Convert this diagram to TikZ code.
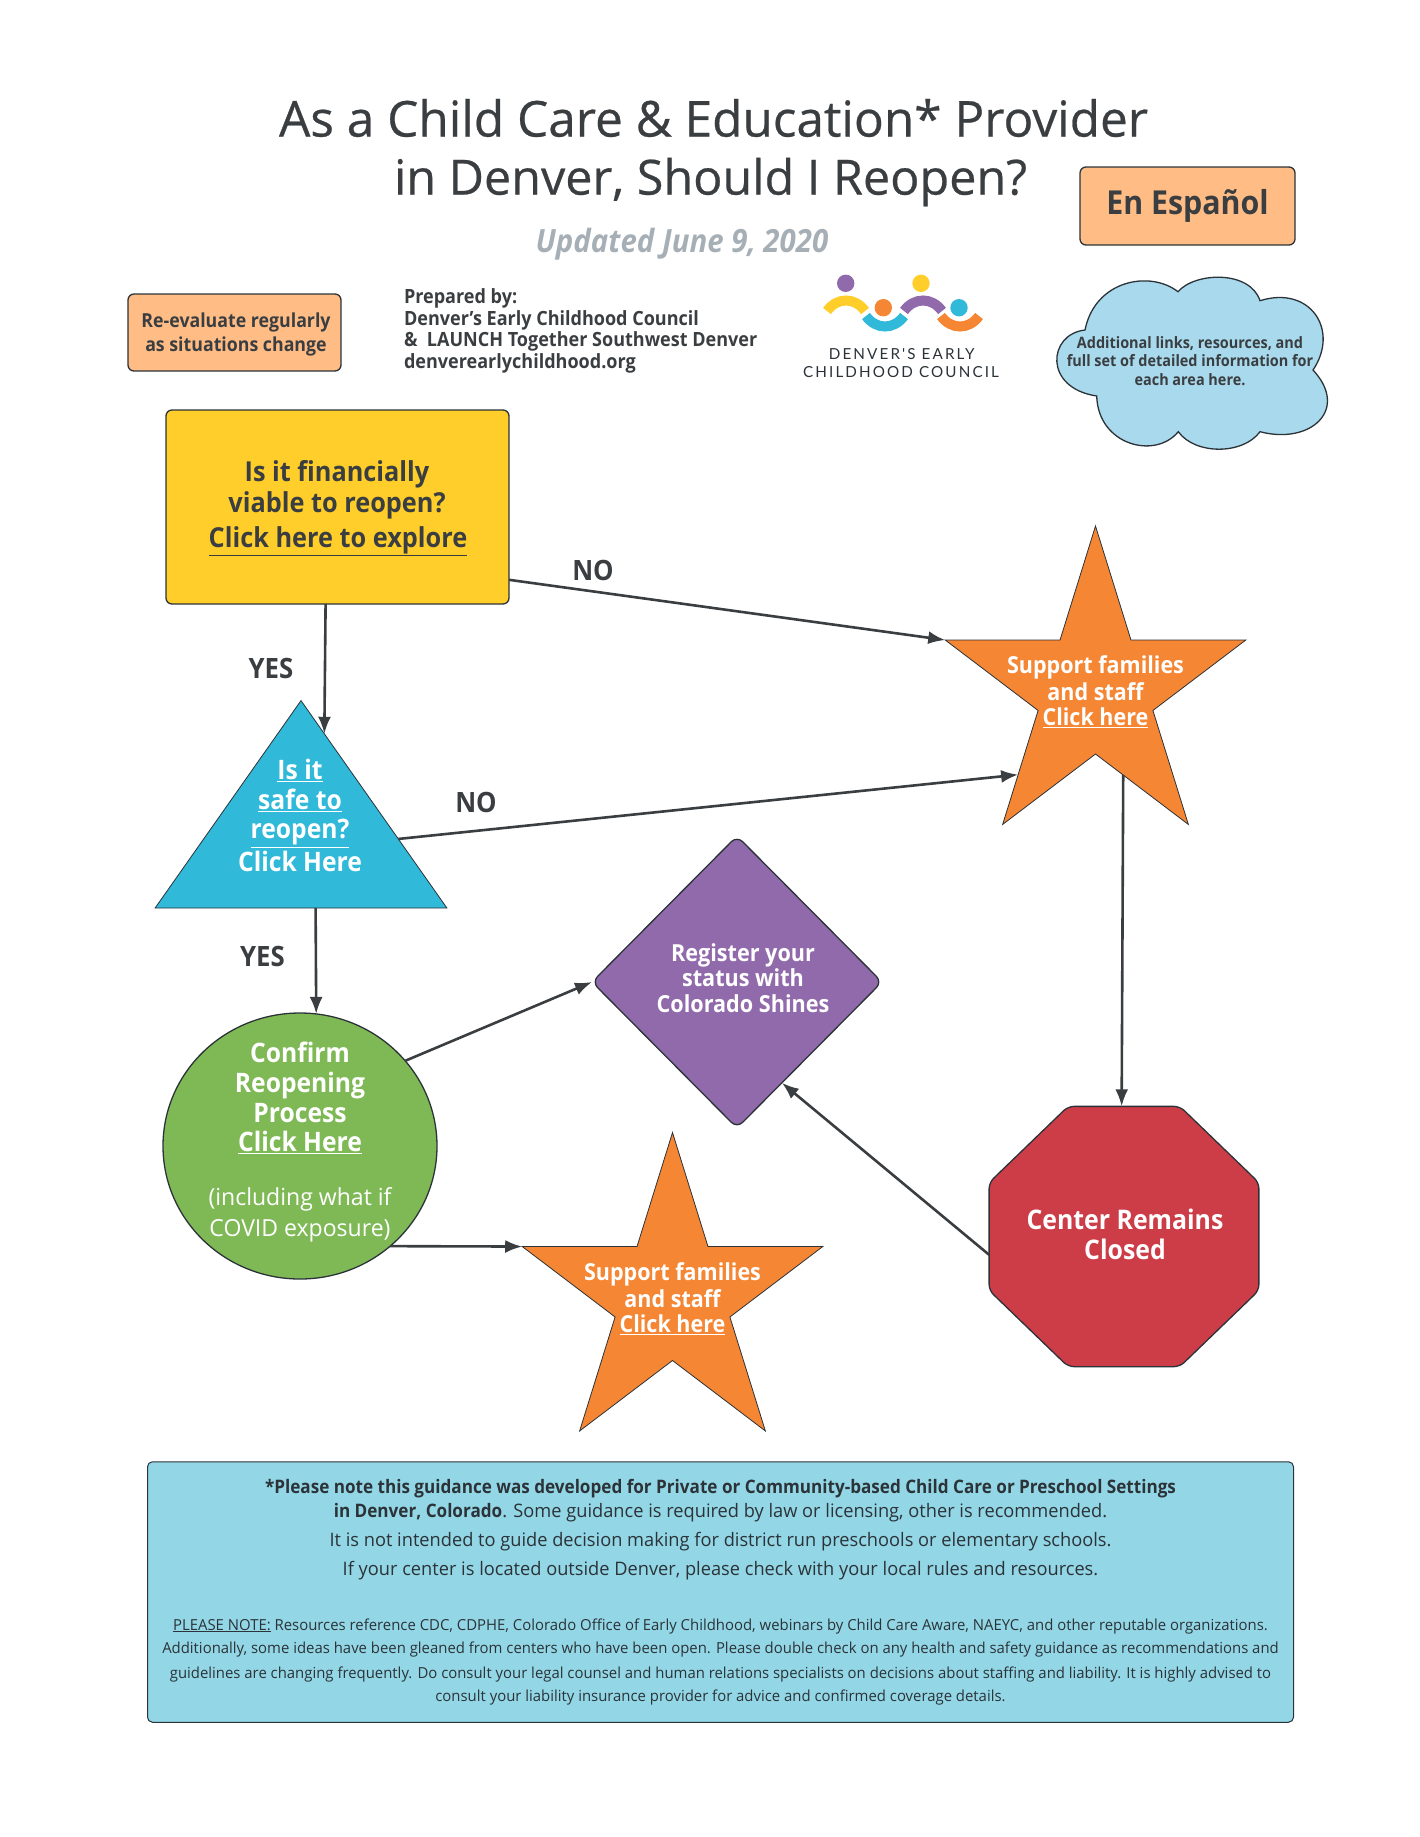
\documentclass[tikz,border=0pt]{standalone}
\usepackage{fontspec}
\setmainfont{Open Sans}[FakeStretch=0.98,BoldFeatures={FakeStretch=0.92},BoldItalicFeatures={FakeStretch=0.92}]
\newfontfamily\logofont{Lato}[LetterSpace=14]
\newfontfamily\titlefont{Open Sans}[FakeBold=0.5]
\usetikzlibrary{arrows.meta,calc,shapes.geometric}
\definecolor{ink}{HTML}{3A3E41}
\definecolor{edge}{HTML}{2B3338}
\definecolor{byellow}{HTML}{FFCE2A}
\definecolor{borange}{HTML}{F58634}
\definecolor{bcyan}{HTML}{30B9D9}
\definecolor{bpurple}{HTML}{916AAB}
\definecolor{bred}{HTML}{CC3D48}
\definecolor{bgreen}{HTML}{7FB955}
\definecolor{lorange}{HTML}{FFBC85}
\definecolor{bcloud}{HTML}{A8D9EC}
\definecolor{bnote}{HTML}{93D7E6}
\definecolor{greytext}{HTML}{A7AFB6}
\newcommand{\fs}[1]{\fontsize{#1}{#1}\selectfont}
\tikzset{
  x=1pt,y=-1pt,
  every node/.style={inner sep=0pt,outer sep=0pt,align=center,text=ink},
  shapeline/.style={draw=edge,line width=1.3pt},
  box/.style={shapeline,rectangle,rounded corners=6pt},
  conn/.style={draw=ink,line width=2.6pt,-{Latex[length=17pt,width=13pt]}},
  bigw/.style={text=white,font=\bfseries\fs{26.8}},
  label/.style={font=\bfseries\fs{28},text=ink},
  starshape/.style={star,star points=5,star point ratio=2.618,minimum size=316pt,yscale=1.044,transform shape,fill=borange,draw=edge,line width=.8pt},
  logoarc/.style={line width=10pt,line cap=butt},
  notea/.style={font=\fs{18.6},text=edge},
  noteb/.style={font=\fs{15.2},text=edge},
}
\begin{document}
\begin{tikzpicture}
\useasboundingbox (0,0) rectangle (1420,1837);
% title
\node (title1) at (713.5,118) [font=\titlefont\fs{49.5}] {As a Child Care \& Education* Provider};
\node (title2) at (710.5,182) [font=\titlefont\fs{48.5}] {in Denver, Should I Reopen?};
\node (updated) at (682,244) [font=\bfseries\itshape\fs{32},text=greytext] {Updated June 9, 2020};
\node (espanol) at (1187.5,206) [box,fill=lorange,minimum width=215pt,minimum height=78pt] {\bfseries\fs{33}En Español};
\node (reeval) at (234.5,332.5) [box,fill=lorange,minimum width=213pt,minimum height=77pt] {};
\node (reevaltext) at (236,334.5) [font=\bfseries\fs{19.3}] {Re-evaluate regularly\\[4pt]as situations change};
\node (prepared) at (404,331) [anchor=west,align=left,font=\bfseries\fs{19.6}] {Prepared by:\\[1.8pt]Denver's Early Childhood Council\\[1.8pt]\&\ \ LAUNCH Together Southwest Denver\\[1.8pt]denverearlychildhood.org};
% logo
\fill[bpurple] (845.7,283.3) circle (8.7);
\fill[byellow] (921,283.3) circle (8.7);
\fill[borange] (883.3,307.7) circle (8.7);
\fill[bcyan] (959,307.7) circle (8.7);
\draw[logoarc,byellow] (827,311) .. controls (837,297) and (855,297) .. (865,311);
\draw[logoarc,bcyan] (866,316) .. controls (876,330) and (894,330) .. (904,316);
\draw[logoarc,bpurple] (904,311) .. controls (914,297) and (932,297) .. (942,311);
\draw[logoarc,borange] (941,316) .. controls (951,330) and (969,330) .. (979,316);
\node (logo1) at (901.7,354) [font=\logofont\fs{15.2},text=edge] {DENVER'S EARLY};
\node (logo2) at (901,372) [font=\logofont\fs{15.2},text=edge] {CHILDHOOD COUNCIL};
% cloud
\draw[shapeline,fill=bcloud] (1085,330) .. controls (1048,334) and (1043,388) .. (1096.7,396)
  .. controls (1098,445) and (1155,460) .. (1178.3,431.7)
  .. controls (1195,455) and (1243,455) .. (1260,431.7)
  .. controls (1310,445) and (1350,410) .. (1313,370)
  .. controls (1340,330) and (1310,285) .. (1260,300.7)
  .. controls (1250,270) and (1195,272) .. (1178,291.7)
  .. controls (1150,270) and (1095,280) .. (1085,330) -- cycle;
\node (cloudtext) at (1190,361) [font=\bfseries\fs{15.7}] {Additional links, resources, and\\[2.5pt]full set of detailed information for\\[2.5pt]each area here.};
% flow shapes
\node (yellow) at (337.5,507) [box,fill=byellow,minimum width=343pt,minimum height=194pt] {};
\node (yellowtext) at (337,474.5) [font=\bfseries\fs{27.5}] {Is it financially};
\node (yellowtext2) at (337,505.5) [font=\bfseries\fs{27.5}] {viable to reopen?};
\node (yellowtext3) at (338,541.5) [font=\bfseries\fs{27.5}] {\underline{Click here to explore}};
\node (star1) at (1095.5,691) [starshape] {};
\node (star1text) at (1095.5,692) [text=white,font=\bfseries\fs{23.4}] {Support families\\[2pt]and staff\\[2pt]\underline{Click here}};
\node (tri) at (301,700.6) [anchor=apex,isosceles triangle,isosceles triangle stretches,shape border rotate=90,minimum width=291.8pt,minimum height=207.4pt,fill=bcyan,draw=edge,line width=.8pt] {};
\node (tritext) at (300,815.5) [bigw] {\underline{Is it}\\[3pt]\underline{safe to}\\[3pt]\underline{reopen?}\\[3pt]Click Here};
\node (circ) at (300,1146) [ellipse,minimum width=274pt,minimum height=266pt,shapeline,fill=bgreen] {};
\node (circtext) at (300,1098) [bigw] {Confirm\\[3pt]Reopening\\[3pt]Process\\[3pt]\underline{Click Here}};
\node (circtext2) at (300,1215) [text=white,font=\fs{23.5}] {(including what if\\[8pt]COVID exposure)};
\node (diam) at (737,982) [diamond,minimum width=290pt,minimum height=292pt,rounded corners=8pt,shapeline,fill=bpurple] {};
\node (diamtext) at (743,978) [text=white,font=\bfseries\fs{23.5}] {Register your\\[2pt]status with\\[2pt]Colorado Shines};
\node (octa) at (1124,1236.5) [regular polygon,regular polygon sides=8,minimum size=292pt,yscale=.965,transform shape,rounded corners=6pt,shapeline,fill=bred] {};
\node (octatext) at (1125,1234.5) [text=white,font=\bfseries\fs{27}] {Center Remains\\[3pt]Closed};
\node (star2) at (672.5,1297.5) [starshape] {};
\node (star2text) at (672.5,1299) [text=white,font=\bfseries\fs{23.4}] {Support families\\[2pt]and staff\\[2pt]\underline{Click here}};
% connectors
\draw[conn] (yellow.-23.3) -- (star1.outer point 2);
\draw[conn] (yellow.-97.6) -- ($(tri.apex)!.16!(tri.right corner)$);
\draw[conn] ($(tri.apex)!.667!(tri.right corner)$) -- (star1.226);
\draw[conn] ($(tri.left corner)!.55!(tri.right corner)$) -- (circ.83.6);
\draw[conn] (circ.39.6) -- (diam.west);
\draw[conn] (circ.-48) -- (star2.outer point 2);
\draw[conn] (octa.-172) -- (diam.-66.8);
\draw[conn] (star1.-71) -- (octa.91);
% labels
\node (no1) at (593,570.5) [label] {NO};
\node (yes1) at (271,668) [label] {YES};
\node (no2) at (476,802.5) [label] {NO};
\node (yes2) at (262.5,956) [label] {YES};
% note
\node (note) at (720.5,1592) [box,rounded corners=5pt,fill=bnote,minimum width=1146pt,minimum height=260.5pt,line width=1pt] {};
\node (n1) at (720.5,1489) [notea] {\textbf{*Please note this guidance was developed for Private or Community-based Child Care or Preschool Settings}};
\node (n2) at (720.5,1513) [notea] {\textbf{in Denver, Colorado}. Some guidance is required by law or licensing, other is recommended.};
\node (n3) at (720.5,1541.5) [notea] {It is not intended to guide decision making for district run preschools or elementary schools.};
\node (n4) at (720.5,1571) [notea] {If your center is located outside Denver, please check with your local rules and resources.};
\node (n5) at (720.5,1626) [noteb] {\underline{PLEASE NOTE:} Resources reference CDC, CDPHE, Colorado Office of Early Childhood, webinars by Child Care Aware, NAEYC, and other reputable organizations.};
\node (n6) at (720.5,1649.5) [noteb] {Additionally, some ideas have been gleaned from centers who have been open. Please double check on any health and safety guidance as recommendations and};
\node (n7) at (720.5,1674) [noteb] {guidelines are changing frequently. Do consult your legal counsel and human relations specialists on decisions about staffing and liability. It is highly advised to};
\node (n8) at (720.5,1697.5) [noteb] {consult your liability insurance provider for advice and confirmed coverage details.};
\end{tikzpicture}
\end{document}
